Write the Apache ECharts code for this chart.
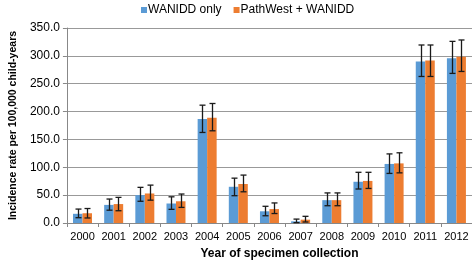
<!DOCTYPE html>
<html>
<head>
<meta charset="utf-8">
<script src="https://cdn.jsdelivr.net/npm/echarts@6/dist/echarts.min.js"></script>
<style>
  html, body { margin: 0; padding: 0; background: #fff; }
  #chart { width: 472px; height: 265px; }
</style>
</head>
<body>
<div id="chart"></div>
<script>
// years on the x axis
var years = ['2000', '2001', '2002', '2003', '2004', '2005', '2006', '2007', '2008', '2009', '2010', '2011', '2012'];

// WANIDD only: rate and 95% CI
var wanidd = [16.5, 32.5, 50, 35, 186.5, 65, 21, 3, 41, 74, 106, 290, 295.5];
var wanidd_lo = [9.5, 23, 39, 24.5, 162.5, 49, 13, 0.6, 31, 61, 89, 263, 268.5];
var wanidd_hi = [25, 43, 64, 47, 211.5, 80.5, 30, 7, 54, 91, 124, 319.5, 326];

// PathWest + WANIDD: rate and 95% CI
var pathwest = [17.5, 34, 53, 39, 189, 70, 25, 6, 41, 75.5, 107, 291.5, 298.5];
var pathwest_lo = [9, 22, 41, 28, 165.5, 56, 17, 1.8, 31, 62, 90, 263, 272];
var pathwest_hi = [26, 46, 68, 52, 214.5, 86, 36, 12, 54, 91, 126, 319.5, 328.5];

var seriesNames = ['WANIDD only', 'PathWest + WANIDD'];
var colors = ['#5B9BD5', '#ED7D31'];
var barW = 9.5;
var font = 'Liberation Sans, Arial, sans-serif';

function errData(lo, hi) {
    var out = [];
    for (var i = 0; i < years.length; i++) {
        out.push([i, lo[i], hi[i]]);
    }
    return out;
}

function errRender(offset) {
    return function (params, api) {
        var top = api.coord([api.value(0), api.value(2)]);
        var bot = api.coord([api.value(0), api.value(1)]);
        var x = Math.round(top[0] + offset) + 0.5;
        var cap = 3;
        var st = { stroke: '#1a1a1a', lineWidth: 1.3 };
        return {
            type: 'group',
            children: [
                { type: 'line', shape: { x1: x, y1: top[1], x2: x, y2: bot[1] }, style: st },
                { type: 'line', shape: { x1: x - cap, y1: top[1], x2: x + cap, y2: top[1] }, style: st },
                { type: 'line', shape: { x1: x - cap, y1: bot[1], x2: x + cap, y2: bot[1] }, style: st }
            ]
        };
    };
}

var myChart = echarts.init(document.getElementById('chart'));
var option = {
    animation: false,
    textStyle: { fontFamily: font },
    legend: {
        data: seriesNames,
        left: 136,
        top: -1,
        icon: 'rect',
        itemWidth: 6,
        itemHeight: 6,
        itemGap: 12,
        textStyle: { fontSize: 12, color: '#000', fontFamily: font, padding: [0, 0, 0, -4] }
    },
    grid: { left: 52, right: 0, top: 28, bottom: 39 },
    xAxis: {
        type: 'category',
        data: years,
        name: 'Year of specimen collection',
        nameLocation: 'middle',
        nameGap: 25,
        nameTextStyle: { fontSize: 12, fontWeight: 'bold', color: '#000', fontFamily: font, padding: [0, 0, 0, 20] },
        axisLine: { lineStyle: { color: '#888', width: 1 } },
        axisTick: { show: true, length: 4, lineStyle: { color: '#888' } },
        axisLabel: { fontSize: 11, color: '#000', margin: 8, interval: 0, hideOverlap: false }
    },
    yAxis: {
        type: 'value',
        min: 0,
        max: 350,
        interval: 50,
        name: 'Incidence rate per 100,000 child-years',
        nameLocation: 'middle',
        nameGap: 45,
        nameTextStyle: { fontSize: 10.5, fontWeight: 'bold', color: '#000', fontFamily: font, padding: [0, 0, 0, 0] },
        axisLine: { show: true, lineStyle: { color: '#888', width: 1 } },
        axisTick: { show: true, length: 4, lineStyle: { color: '#888' } },
        axisLabel: {
            fontSize: 12, color: '#000', margin: 7,
            formatter: function (v) { return v.toFixed(1); }
        },
        splitLine: { lineStyle: { color: '#999', width: 1 } }
    },
    series: [
        {
            name: seriesNames[0], type: 'bar', data: wanidd, barWidth: barW, barGap: '0%',
            itemStyle: { color: colors[0] }
        },
        {
            name: seriesNames[1], type: 'bar', data: pathwest, barWidth: barW, barGap: '0%',
            itemStyle: { color: colors[1] }
        },
        {
            type: 'custom', data: errData(wanidd_lo, wanidd_hi),
            renderItem: errRender(-barW / 2), encode: { x: 0, y: [1, 2] }, z: 5
        },
        {
            type: 'custom', data: errData(pathwest_lo, pathwest_hi),
            renderItem: errRender(barW / 2), encode: { x: 0, y: [1, 2] }, z: 5
        }
    ]
};
myChart.setOption(option);
</script>
</body>
</html>
